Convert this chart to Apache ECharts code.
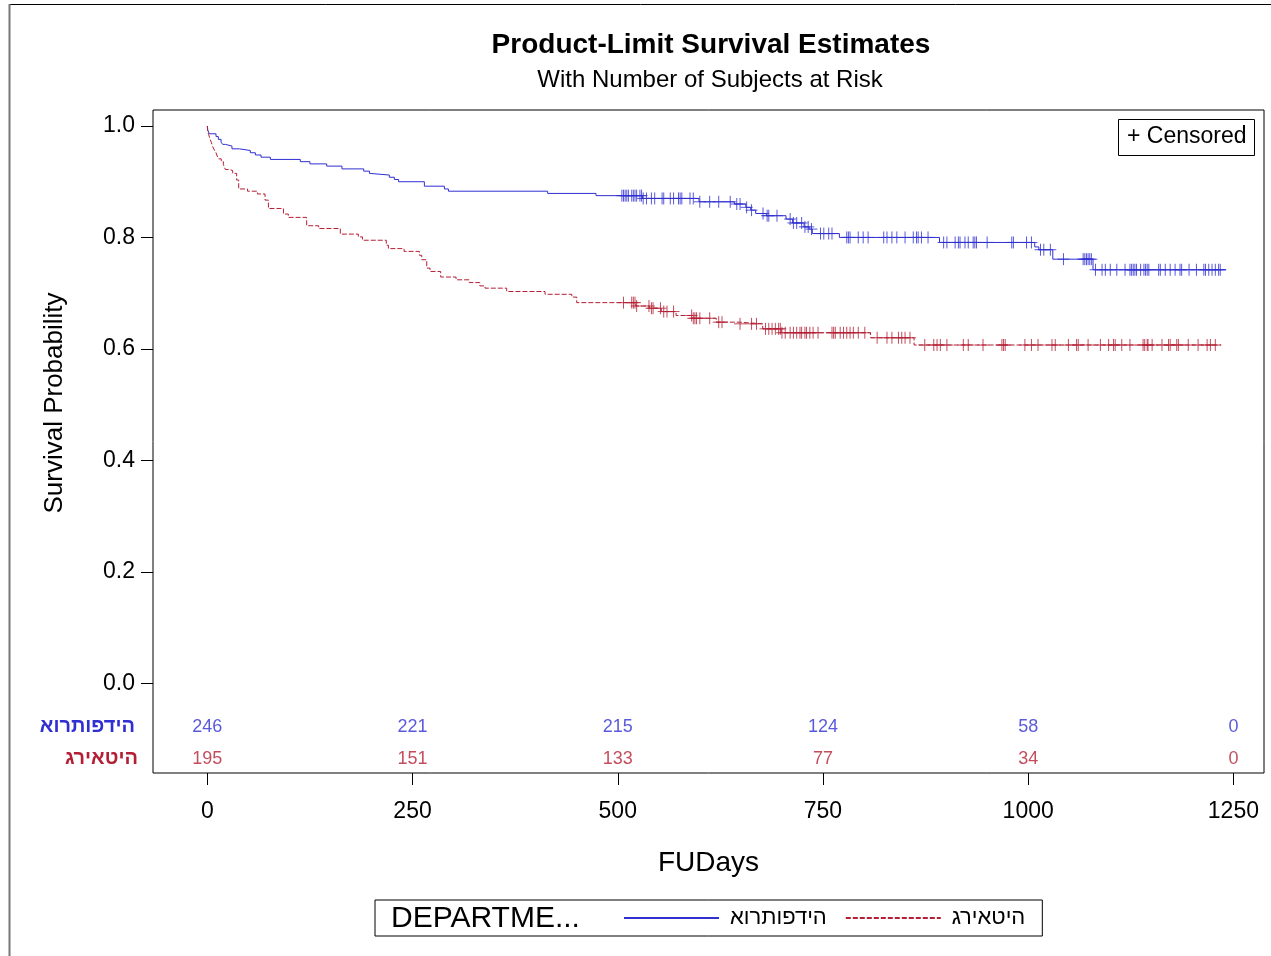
<!DOCTYPE html>
<html>
<head>
<meta charset="utf-8">
<script src="https://cdn.jsdelivr.net/npm/echarts@6/dist/echarts.min.js"></script>
<style>html,body{margin:0;padding:0;background:#fff}#c{width:1271px;height:956px}</style>
</head>
<body>
<div id="c"></div>
<script>
// ---------- data ----------
const groups = ['הידפותרוא', 'היטאירג'];
const xTicks = [0, 250, 500, 750, 1000, 1250];
const yTicks = [0, 0.2, 0.4, 0.6, 0.8, 1.0];
const atRiskTimes = [0, 250, 500, 750, 1000, 1250];
const atRiskOrtho = [246, 221, 215, 124, 58, 0];
const atRiskGeri = [195, 151, 133, 77, 34, 0];

const orthoTimes = [0, 0.4, 2.4, 10.6, 13.4, 16.7, 18.7, 21.9, 30, 39, 52.4, 58.5, 65.4, 76.8, 113.3, 125, 145.4, 164, 190.5, 197.5, 198.3, 221.7, 227.8, 233, 264.4, 288.8, 293.7, 414.6, 473.5, 530, 599, 642, 656, 662, 668, 681, 705, 713, 727, 733, 737, 770, 892, 1008, 1013, 1030, 1079, 1241];
const orthoSurv = [1.0, 0.993, 0.986, 0.981, 0.976, 0.971, 0.967, 0.964, 0.959, 0.956, 0.952, 0.948, 0.944, 0.940, 0.936, 0.932, 0.928, 0.923, 0.919, 0.915, 0.912, 0.908, 0.904, 0.900, 0.892, 0.887, 0.883, 0.879, 0.875, 0.870, 0.864, 0.860, 0.854, 0.849, 0.843, 0.839, 0.833, 0.826, 0.819, 0.815, 0.807, 0.800, 0.791, 0.783, 0.778, 0.761, 0.742, 0.742];
const orthoCensor = [505, 507, 509, 511, 513, 517, 519, 521, 523, 527, 529, 531, 535, 541, 545, 554, 556, 564, 568, 574, 576, 578, 588, 592, 600, 612, 623, 637, 645, 649, 657, 663, 677, 682, 684, 694, 710, 714, 718, 724, 728, 732, 736, 747, 751, 757, 761, 779, 781, 783, 793, 799, 805, 824, 828, 834, 840, 850, 860, 864, 866, 870, 878, 897, 901, 911, 915, 917, 923, 927, 933, 935, 937, 950, 980, 982, 998, 1004, 1015, 1019, 1027, 1043, 1067, 1069, 1071, 1073, 1075, 1077, 1082, 1090, 1094, 1100, 1108, 1118, 1124, 1126, 1128, 1130, 1132, 1137, 1141, 1143, 1145, 1147, 1159, 1161, 1167, 1173, 1179, 1185, 1187, 1196, 1205, 1214, 1216, 1220, 1224, 1228, 1232, 1234];

const geriTimes = [0, 0.5, 1.5, 3, 5, 6.5, 8.5, 10.6, 12, 13.8, 17, 19.5, 21.9, 26.8, 30.9, 35.7, 38.2, 49, 61, 70.3, 74.4, 92.7, 98.7, 121, 135.6, 162, 184, 189, 218, 220.6, 239.7, 258.4, 261.2, 267.3, 271.3, 284.3, 303, 319, 332, 338.3, 364.7, 411.4, 444, 450, 522, 538.5, 553, 571, 591, 620, 648, 676.6, 699, 808, 861, 1235];
const geriSurv = [1.0, 0.990, 0.985, 0.978, 0.970, 0.963, 0.957, 0.952, 0.946, 0.941, 0.936, 0.931, 0.922, 0.920, 0.915, 0.903, 0.887, 0.883, 0.878, 0.867, 0.852, 0.842, 0.836, 0.821, 0.816, 0.806, 0.801, 0.795, 0.786, 0.780, 0.775, 0.768, 0.760, 0.745, 0.739, 0.729, 0.724, 0.719, 0.713, 0.709, 0.703, 0.698, 0.693, 0.683, 0.677, 0.673, 0.667, 0.660, 0.655, 0.648, 0.645, 0.636, 0.629, 0.620, 0.607, 0.607];
const geriCensor = [507, 517, 519, 521, 523, 538, 541, 543, 552, 556, 560, 568, 590, 592, 594, 596, 600, 612, 623, 627, 649, 663, 669, 680, 684, 688, 692, 696, 698, 700, 704, 710, 714, 718, 722, 724, 728, 730, 734, 738, 744, 761, 763, 765, 771, 775, 779, 783, 787, 793, 801, 816, 828, 834, 842, 846, 850, 856, 874, 885, 889, 893, 901, 921, 927, 945, 968, 970, 972, 996, 1004, 1012, 1029, 1033, 1049, 1059, 1061, 1073, 1088, 1098, 1104, 1106, 1114, 1124, 1140, 1142, 1145, 1146, 1151, 1163, 1171, 1173, 1181, 1183, 1195, 1207, 1218, 1222, 1228];

// ---------- build ----------
const FONT = "'Liberation Sans', Arial, 'DejaVu Sans', sans-serif";
const BLUE = '#2f2fd2';
const RED = '#b41f35';

function stepValue(times, surv, t) {
  let v = surv[0];
  for (let i = 0; i < times.length; i++) { if (times[i] <= t) v = surv[i]; else break; }
  return v;
}
const pairs = (ts, ss) => ts.map((t, i) => [t, ss[i]]);
const censorPts = (cs, ts, ss) => cs.map(t => [t, stepValue(ts, ss, t)]);

const ROW1 = -0.0784, ROW2 = -0.1358;
const plus = 'path://M5,0L5,10M0,5L10,5';

const chart = echarts.init(document.getElementById('c'), null, { renderer: 'canvas' });
chart.setOption({
  animation: false,
  backgroundColor: '#fff',
  grid: { left: 153, top: 110, width: 1111, height: 663, show: true, borderColor: '#000', borderWidth: 1, backgroundColor: 'transparent' },
  xAxis: {
    type: 'value', min: -66.2, max: 1287.3,
    axisLine: { show: false, onZero: false },
    axisTick: { show: true, customValues: xTicks, length: 12, lineStyle: { color: '#000' } },
    axisLabel: { customValues: xTicks, margin: 27, fontSize: 23, color: '#000', fontFamily: FONT, formatter: v => String(v) },
    splitLine: { show: false },
    name: 'FUDays', nameLocation: 'middle', nameGap: 76,
    nameTextStyle: { fontSize: 28, color: '#000', fontFamily: FONT }
  },
  yAxis: {
    type: 'value', min: -0.161, max: 1.0287,
    axisLine: { show: false, onZero: false },
    axisTick: { show: true, customValues: yTicks, length: 12, lineStyle: { color: '#000' } },
    axisLabel: { customValues: yTicks, margin: 18, fontSize: 23, color: '#000', fontFamily: FONT, formatter: v => v.toFixed(1), padding: [3, 0, 0, 0] },
    splitLine: { show: false }
  },
  legend: {
    data: groups, left: 375, top: 900, orient: 'horizontal',
    itemWidth: 95, itemHeight: 14, itemGap: 18,
    padding: [7, 17, 7, 248], borderColor: '#000', borderWidth: 1,
    selectedMode: false,
    itemStyle: { color: 'rgba(0,0,0,0)', borderWidth: 0, opacity: 0 },
    textStyle: { fontSize: 22, color: '#000', fontFamily: FONT, padding: [0, 0, 0, 6] }
  },
  series: [
    { name: groups[0], type: 'line', step: 'end', symbol: 'none', data: pairs(orthoTimes, orthoSurv),
      lineStyle: { color: BLUE, width: 1 }, itemStyle: { color: BLUE } },
    { name: groups[1], type: 'line', step: 'end', symbol: 'none', data: pairs(geriTimes, geriSurv),
      lineStyle: { color: RED, width: 1, type: [5, 2] }, itemStyle: { color: RED } },
    { name: 'censor-ortho', type: 'scatter', symbol: plus, symbolSize: 12, data: censorPts(orthoCensor, orthoTimes, orthoSurv),
      itemStyle: { color: 'rgba(0,0,0,0)', borderColor: BLUE, borderWidth: 1 } },
    { name: 'censor-geri', type: 'scatter', symbol: plus, symbolSize: 12, data: censorPts(geriCensor, geriTimes, geriSurv),
      itemStyle: { color: 'rgba(0,0,0,0)', borderColor: RED, borderWidth: 1 } },
    { name: 'risk-ortho', type: 'scatter', symbolSize: 1, itemStyle: { color: 'rgba(0,0,0,0)' },
      data: atRiskTimes.map((t, i) => [t, ROW1, atRiskOrtho[i]]),
      label: { show: true, position: 'inside', formatter: p => String(p.value[2]), fontSize: 18, color: BLUE, fontFamily: FONT } },
    { name: 'risk-geri', type: 'scatter', symbolSize: 1, itemStyle: { color: 'rgba(0,0,0,0)' },
      data: atRiskTimes.map((t, i) => [t, ROW2, atRiskGeri[i]]),
      label: { show: true, position: 'inside', formatter: p => String(p.value[2]), fontSize: 18, color: RED, fontFamily: FONT } }
  ],
  graphic: [
    { type: 'line', shape: { x1: 10, y1: 4.5, x2: 1271, y2: 4.5 }, style: { stroke: '#000', lineWidth: 1 } },
    { type: 'line', shape: { x1: 9.5, y1: 4, x2: 9.5, y2: 956 }, style: { stroke: '#777', lineWidth: 2 } },
    { type: 'text', x: 711, y: 45, style: { text: 'Product-Limit Survival Estimates', font: 'bold 28px ' + FONT, fill: '#000', textAlign: 'center', textVerticalAlign: 'middle' } },
    { type: 'text', x: 710, y: 80, style: { text: 'With Number of Subjects at Risk', font: '24px ' + FONT, fill: '#000', textAlign: 'center', textVerticalAlign: 'middle' } },
    { type: 'text', x: 55, y: 403, rotation: Math.PI / 2, style: { text: 'Survival Probability', font: '26px ' + FONT, fill: '#000', textAlign: 'center', textVerticalAlign: 'middle' } },
    { type: 'rect', shape: { x: 1118.5, y: 119.5, width: 136, height: 36 }, style: { fill: '#fff', stroke: '#000', lineWidth: 1 } },
    { type: 'text', x: 1127, y: 137, style: { text: '+ Censored', font: '23px ' + FONT, fill: '#000', textAlign: 'left', textVerticalAlign: 'middle' } },
    { type: 'text', x: 391, y: 919, style: { text: 'DEPARTME...', font: '30px ' + FONT, fill: '#000', textAlign: 'left', textVerticalAlign: 'middle' } },
    { type: 'text', x: 135, y: 726, style: { text: groups[0], font: 'bold 20px ' + FONT, fill: BLUE, textAlign: 'right', textVerticalAlign: 'middle' } },
    { type: 'text', x: 138, y: 758, style: { text: groups[1], font: 'bold 20px ' + FONT, fill: RED, textAlign: 'right', textVerticalAlign: 'middle' } }
  ]
});
</script>
</body>
</html>
